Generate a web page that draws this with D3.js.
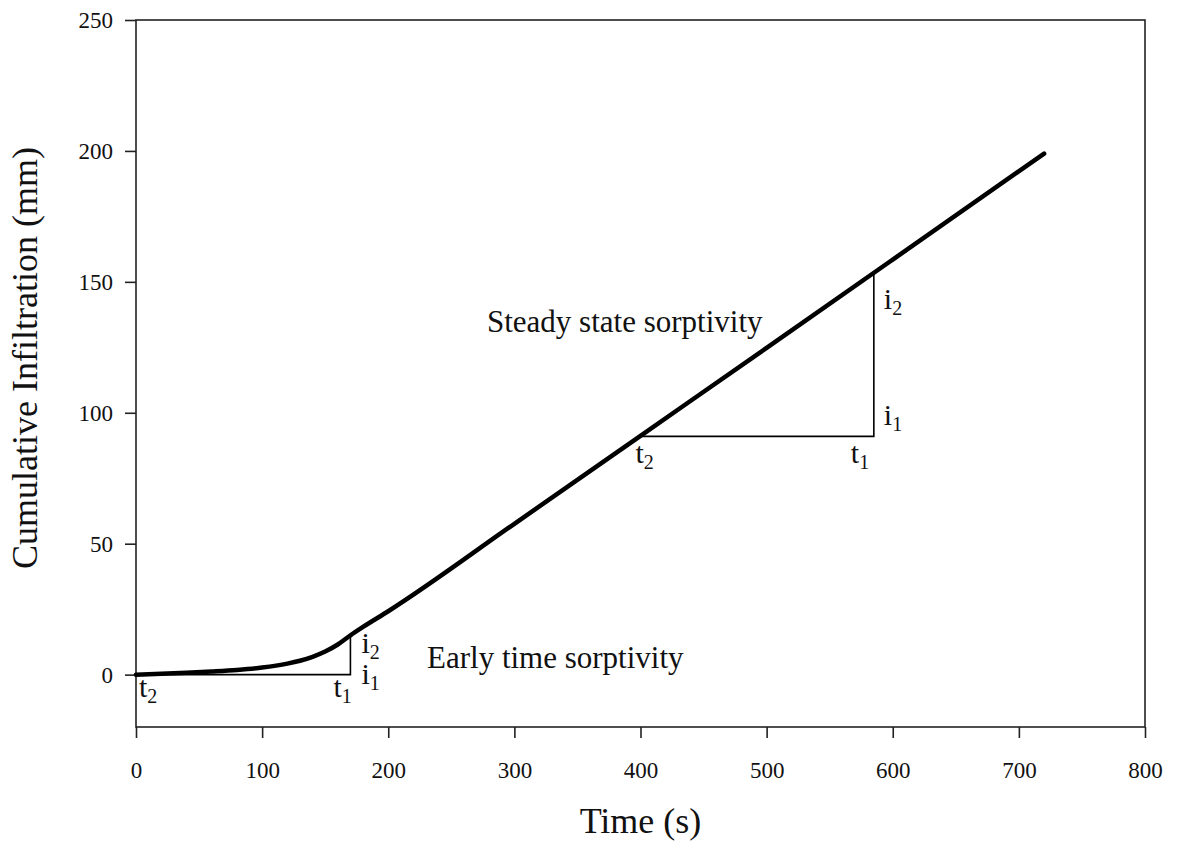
<!doctype html>
<html lang="en">
<head>
<meta charset="utf-8">
<title>Cumulative Infiltration</title>
<script src="https://d3js.org/d3.v7.min.js"></script>
<style>
  body { margin: 0; background: #fff; }
  text { font-family: "Liberation Serif", "Times New Roman", serif; fill: #111; }
</style>
</head>
<body>
<div id="chart"></div>
<script>
// data
var timeS = [0, 20, 40, 60, 80, 100, 120, 130, 140, 150, 160, 170, 180, 200, 300, 400, 500, 600, 720];
var infil = [0, 0.3, 0.7, 1.2, 1.8, 2.7, 4.2, 5.3, 6.8, 8.8, 11.5, 15.0, 18.2, 24.2, 57.6, 91.2, 124.8, 158.5, 199];

var xTicks = [0, 100, 200, 300, 400, 500, 600, 700, 800];
var yTicks = [0, 50, 100, 150, 200, 250];

// slope triangles: [t2, t1, i1, i2]
var earlyTri = [0, 170, 0, 15];
var steadyTri = [400, 585, 91, 154];

var W = 1177, H = 846;
var margin = {top: 20, right: 32, bottom: 119, left: 136};
var w = W - margin.left - margin.right;
var h = H - margin.top - margin.bottom;

var svg = d3.select("#chart").append("svg")
  .attr("width", W).attr("height", H);
var g = svg.append("g").attr("transform", "translate(" + margin.left + "," + margin.top + ")");

var x = d3.scaleLinear().domain([0, 800]).range([0, w]);
var y = d3.scaleLinear().domain([-20, 250]).range([h, 0]);

// frame
g.append("rect").attr("width", w).attr("height", h)
  .attr("fill", "none").attr("stroke", "#222").attr("stroke-width", 1.6);

var xAxis = g.append("g").attr("transform", "translate(0," + h + ")")
  .call(d3.axisBottom(x).tickValues(xTicks).tickSize(11).tickPadding(24));
var yAxis = g.append("g")
  .call(d3.axisLeft(y).tickValues(yTicks).tickSize(11).tickPadding(12));
[xAxis, yAxis].forEach(function(a) {
  a.select(".domain").remove();
  a.selectAll(".tick line").attr("stroke", "#222").attr("stroke-width", 1.6);
  a.selectAll(".tick text").style("font-size", "23px").attr("fill", "#111")
    .style("font-family", "'Liberation Serif', serif");
});

// triangles
function tri(t) {
  g.append("path")
    .attr("d", "M" + x(t[0]) + "," + y(t[2]) + "H" + x(t[1]) + "V" + y(t[3]))
    .attr("fill", "none").attr("stroke", "#000").attr("stroke-width", 1.6);
}
tri(earlyTri);
tri(steadyTri);

// curve
var line = d3.line()
  .x(function(d, i) { return x(timeS[i]); })
  .y(function(d) { return y(d); })
  .curve(d3.curveMonotoneX);
g.append("path").datum(infil)
  .attr("d", line)
  .attr("fill", "none").attr("stroke", "#000")
  .attr("stroke-width", 4.5).attr("stroke-linecap", "round");

// subscript labels
function sub(px, py, base, s) {
  var t = g.append("text").attr("x", px).attr("y", py).style("font-size", "30px");
  t.append("tspan").text(base);
  t.append("tspan").attr("dy", 6).style("font-size", "20px").text(s);
}
sub(x(earlyTri[0]) + 3, y(earlyTri[2]) + 22, "t", "2");
sub(x(earlyTri[1]) - 17, y(earlyTri[2]) + 22, "t", "1");
sub(x(earlyTri[1]) + 11, y(earlyTri[3]) + 18, "i", "2");
sub(x(earlyTri[1]) + 11, y(earlyTri[2]) + 9, "i", "1");

sub(x(steadyTri[0]) - 5, y(steadyTri[2]) + 27, "t", "2");
sub(x(steadyTri[1]) - 23, y(steadyTri[2]) + 27, "t", "1");
sub(x(steadyTri[1]) + 10, y(steadyTri[3]) + 38, "i", "2");
sub(x(steadyTri[1]) + 10, y(steadyTri[2]) - 11, "i", "1");

g.append("text").attr("x", 291).attr("y", 648).style("font-size", "31px").text("Early time sorptivity");
g.append("text").attr("x", 351).attr("y", 312).style("font-size", "31px").text("Steady state sorptivity");

// axis titles
svg.append("text").attr("x", margin.left + w / 2).attr("y", 833)
  .attr("text-anchor", "middle").style("font-size", "36px").text("Time (s)");
svg.append("text").attr("transform", "translate(37,358) rotate(-90)")
  .attr("text-anchor", "middle").style("font-size", "36px").text("Cumulative Infiltration (mm)");
</script>
</body>
</html>
